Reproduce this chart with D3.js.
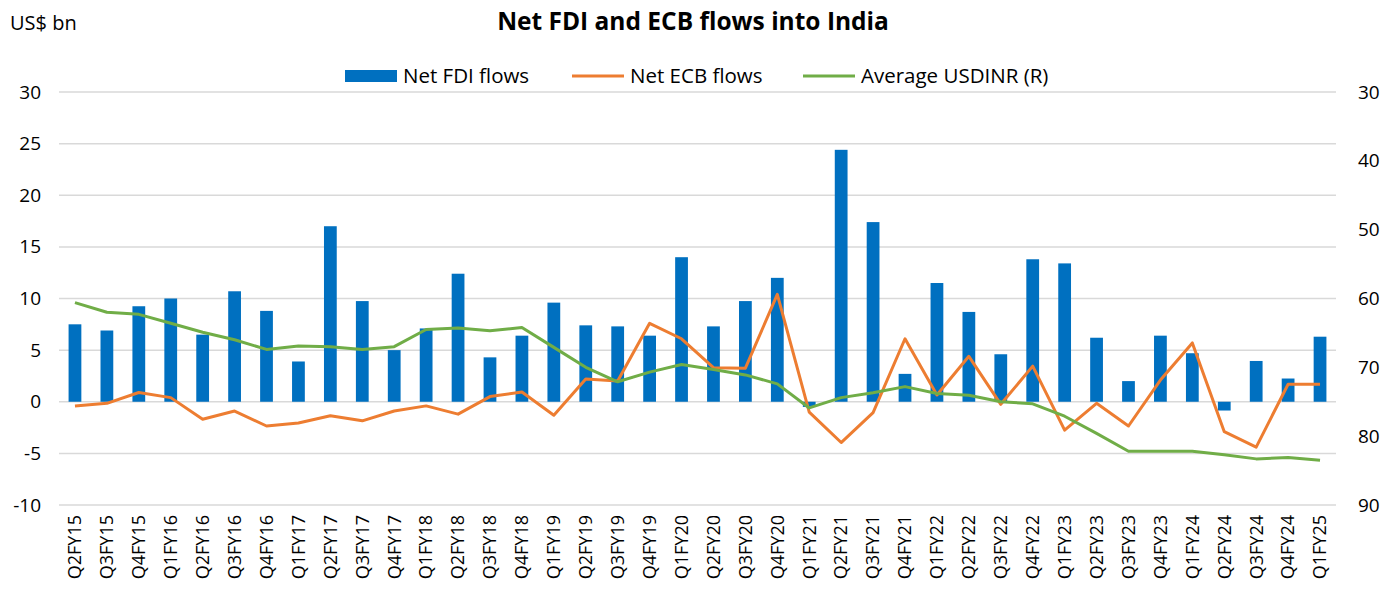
<!DOCTYPE html>
<html>
<head>
<meta charset="utf-8">
<script src="https://cdn.jsdelivr.net/npm/d3@7"></script>
<style>
  body { margin: 0; background: #fff; }
  text { font-family: "Open Sans", "Noto Sans", sans-serif; fill: #000; }
</style>
</head>
<body>
<div id="chart"></div>
<script>
const quarters = ["Q2FY15","Q3FY15","Q4FY15","Q1FY16","Q2FY16","Q3FY16","Q4FY16","Q1FY17","Q2FY17","Q3FY17",
  "Q4FY17","Q1FY18","Q2FY18","Q3FY18","Q4FY18","Q1FY19","Q2FY19","Q3FY19","Q4FY19","Q1FY20",
  "Q2FY20","Q3FY20","Q4FY20","Q1FY21","Q2FY21","Q3FY21","Q4FY21","Q1FY22","Q2FY22","Q3FY22",
  "Q4FY22","Q1FY23","Q2FY23","Q3FY23","Q4FY23","Q1FY24","Q2FY24","Q3FY24","Q4FY24","Q1FY25"];

const netFdi = [7.5, 6.9, 9.25, 10.0, 6.5, 10.7, 8.8, 3.9, 17.0, 9.75,
  5.0, 7.1, 12.4, 4.3, 6.4, 9.6, 7.4, 7.3, 6.4, 14.0,
  7.3, 9.75, 12.0, -0.5, 24.4, 17.4, 2.7, 11.5, 8.7, 4.6,
  13.8, 13.4, 6.2, 2.0, 6.4, 4.7, -0.85, 3.95, 2.25, 6.3];

const netEcb = [-0.4, -0.15, 0.9, 0.4, -1.7, -0.9, -2.35, -2.05, -1.35, -1.85,
  -0.9, -0.4, -1.2, 0.5, 0.95, -1.3, 2.2, 2.0, 7.6, 6.1,
  3.3, 3.25, 10.4, -1.0, -3.95, -1.05, 6.1, 0.65, 4.4, -0.25,
  3.45, -2.75, -0.15, -2.35, 2.1, 5.7, -2.9, -4.4, 1.7, 1.7];

const usdInr = [60.6, 62.0, 62.3, 63.6, 64.9, 66.0, 67.4, 66.9, 67.0, 67.4,
  67.0, 64.5, 64.3, 64.7, 64.2, 67.1, 70.0, 72.1, 70.7, 69.6,
  70.3, 71.1, 72.4, 75.9, 74.4, 73.7, 72.8, 73.8, 74.05, 75.0,
  75.3, 77.1, 79.6, 82.2, 82.2, 82.2, 82.7, 83.3, 83.1, 83.5];

const leftTicks = [-10, -5, 0, 5, 10, 15, 20, 25, 30];
const rightTicks = [30, 40, 50, 60, 70, 80, 90];

const width = 1400, height = 599;
const margin = { top: 92, right: 64, bottom: 94, left: 59 };

const svg = d3.select("#chart").append("svg")
  .attr("width", width)
  .attr("height", height);

const x = d3.scaleBand()
  .domain(quarters)
  .range([margin.left, width - margin.right]);

const y = d3.scaleLinear()
  .domain([-10, 30])
  .range([height - margin.bottom, margin.top]);

// right axis is inverted: 30 at top, 90 at bottom
const y2 = d3.scaleLinear()
  .domain([30, 90])
  .range([margin.top, height - margin.bottom]);

// gridlines
svg.append("g")
  .selectAll("line")
  .data(leftTicks)
  .enter()
  .append("line")
  .attr("x1", margin.left)
  .attr("x2", width - margin.right)
  .attr("y1", d => y(d))
  .attr("y2", d => y(d))
  .attr("stroke", "#d9d9d9")
  .attr("stroke-width", 1.5);

// left axis
const yAxis = svg.append("g")
  .attr("transform", `translate(${margin.left - 18},0)`)
  .call(d3.axisLeft(y).tickValues(leftTicks).tickFormat(d => String(d)).tickSize(0).tickPadding(0));
yAxis.select(".domain").remove();
yAxis.selectAll("text")
  .style("font-size", "19px")
  .style("font-family", "'Open Sans', sans-serif")
  .attr("fill", "#000");

// right axis
const y2Axis = svg.append("g")
  .attr("transform", `translate(${width - margin.right + 22},0)`)
  .call(d3.axisRight(y2).tickValues(rightTicks).tickSize(0).tickPadding(0));
y2Axis.select(".domain").remove();
y2Axis.selectAll("text")
  .style("font-size", "19px")
  .style("font-family", "'Open Sans', sans-serif")
  .attr("fill", "#000");

// x axis labels
const xAxis = svg.append("g")
  .attr("transform", `translate(0,${height - margin.bottom + 10})`)
  .call(d3.axisBottom(x).tickSize(0).tickPadding(0));
xAxis.select(".domain").remove();
xAxis.selectAll("text")
  .style("font-size", "18px")
  .style("font-family", "'Open Sans', sans-serif")
  .attr("fill", "#000")
  .attr("text-anchor", "end")
  .attr("transform", "rotate(-90)")
  .attr("x", 0)
  .attr("y", 0)
  .attr("dx", 0)
  .attr("dy", "0.35em");

// bars
const barW = x.bandwidth() * 0.4;
svg.append("g")
  .selectAll("rect")
  .data(netFdi)
  .enter()
  .append("rect")
  .attr("x", (d, i) => x(quarters[i]) + (x.bandwidth() - barW) / 2)
  .attr("y", d => y(Math.max(0, d)))
  .attr("width", barW)
  .attr("height", d => Math.abs(y(d) - y(0)))
  .attr("fill", "#0070C0");

const cx = i => x(quarters[i]) + x.bandwidth() / 2;

// ECB line
svg.append("path")
  .datum(netEcb)
  .attr("fill", "none")
  .attr("stroke", "#ED7D31")
  .attr("stroke-width", 3)
  .attr("stroke-linejoin", "round")
  .attr("d", d3.line().x((d, i) => cx(i)).y(d => y(d)));

// USDINR line
svg.append("path")
  .datum(usdInr)
  .attr("fill", "none")
  .attr("stroke", "#70AD47")
  .attr("stroke-width", 3)
  .attr("stroke-linejoin", "round")
  .attr("d", d3.line().x((d, i) => cx(i)).y(d => y2(d)));

// title + unit label
svg.append("text")
  .attr("x", 693)
  .attr("y", 30)
  .attr("text-anchor", "middle")
  .style("font-size", "24.5px")
  .style("font-weight", "bold")
  .text("Net FDI and ECB flows into India");

svg.append("text")
  .attr("x", 10)
  .attr("y", 30)
  .style("font-size", "20px")
  .text("US$ bn");

// legend
const legend = [
  { name: "Net FDI flows", color: "#0070C0", type: "bar", x: 345 },
  { name: "Net ECB flows", color: "#ED7D31", type: "line", x: 572 },
  { name: "Average USDINR (R)", color: "#70AD47", type: "line", x: 803 }
];
const lg = svg.append("g").selectAll("g")
  .data(legend)
  .enter()
  .append("g")
  .attr("transform", d => `translate(${d.x},76)`);
lg.filter(d => d.type === "bar").append("rect")
  .attr("x", 0).attr("y", -6).attr("width", 52).attr("height", 12)
  .attr("fill", d => d.color);
lg.filter(d => d.type === "line").append("line")
  .attr("x1", 0).attr("x2", 52).attr("y1", 0).attr("y2", 0)
  .attr("stroke", d => d.color).attr("stroke-width", 3);
lg.append("text")
  .attr("x", 58)
  .attr("dy", "0.35em")
  .style("font-size", "20.5px")
  .text(d => d.name);
</script>
</body>
</html>
